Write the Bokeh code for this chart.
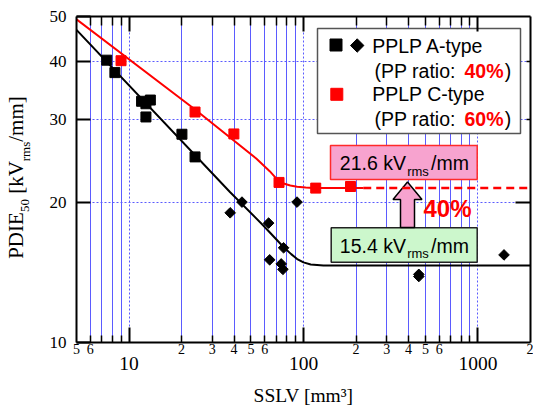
import math
from bokeh.plotting import figure
from bokeh.models import FixedTicker, LogAxis, CustomJSTickFormatter, Label
from bokeh.embed import file_html
from bokeh.resources import INLINE

# ---------------- data ----------------
# PPLP A-type, squares
a_sq_x = [7.45, 8.3, 11.8, 13.25, 12.5, 12.5, 20.1, 23.9]
a_sq_y = [40.3, 37.9, 32.9, 33.1, 32.5, 30.45, 27.96, 25.0]
# PPLP A-type, diamonds
a_dm_x = [38.0, 44.4, 63.1, 91.8, 76.9, 64.0, 74.5, 76.2, 458, 458, 1410]
a_dm_y = [18.97, 20.0, 18.03, 20.0, 15.96, 15.04, 14.74, 14.35, 14.0, 13.85, 15.41]
# PPLP C-type, squares
c_sq_x = [9.0, 23.9, 39.9, 72.4, 117.5, 186]
c_sq_y = [40.2, 31.2, 28.0, 22.04, 21.43, 21.6]
# fitted curves (traced)
a_fit_x = [5, 38, 59, 77, 85, 92, 100, 110, 130, 2000]
a_fit_y = [46.8, 21.0, 17.8, 16.0, 15.47, 15.1, 14.85, 14.7, 14.63, 14.63]
c_fit_x = [5, 23.9, 53.6, 64, 70, 76, 84, 92, 103, 114, 220]
c_fit_y = [49.3, 31.6, 24.8, 23.3, 22.45, 21.95, 21.7, 21.58, 21.5, 21.45, 21.43]
c_ext_x = [220, 2000]
c_ext_y = [21.43, 21.43]

# ticks
x_major_ticks = [10, 100, 1000]
x_minor_ticks = [6, 7, 8, 9, 20, 30, 40, 50, 60, 70, 80, 90,
                 200, 300, 400, 500, 600, 700, 800, 900]
x_small_label_ticks = [5, 6, 20, 30, 40, 50, 60, 200, 300, 400, 500, 600, 2000]
x_small_labels = ["5", "6", "2", "3", "4", "5", "6", "2", "3", "4", "5", "6", "2"]
x_big_labels = ["10", "100", "1000"]
y_ticks = [10, 20, 30, 40, 50]
y_labels = ["10", "20", "30", "40", "50"]
y_grid_ticks = [20, 30, 40]

x_title = "SSLV [mm\u00b3]"
y_title_main = ["PDIE", "[kV", "/mm]"]
y_title_sub = ["50", "rms"]

# ---------------- layout ----------------
W, H = 533, 408
FL, FR, FT, FB = 76, 3, 16, 66
X_MIN, X_MAX = 5, 2000
Y_MIN, Y_MAX = 10, 50


def dx(rx):
    fx = rx - FL
    return 10 ** (math.log10(X_MIN) + fx / (W - FL - FR) * math.log10(X_MAX / X_MIN))


def dy(ry):
    fy = (H - FB) - ry
    return 10 ** (math.log10(Y_MIN) + fy / (H - FT - FB) * math.log10(Y_MAX / Y_MIN))


# pixel centres of the pieces of the rotated y title
y_title_main_px = [235.0, 177.0, 118.5]
y_title_sub_px = [205.1, 151.0]

SERIF = "Liberation Serif"
SANS = "Liberation Sans"
GRID = "#5b5bff"
RED = "#ff0000"

p = figure(width=W, height=H, x_axis_type="log", y_axis_type="log",
           x_range=(X_MIN, X_MAX), y_range=(Y_MIN, Y_MAX),
           output_backend="svg", toolbar_location=None,
           min_border_left=FL, min_border_right=FR,
           min_border_top=FT, min_border_bottom=FB)
p.outline_line_color = None
p.background_fill_color = "white"
p.border_fill_color = "white"

empty_fmt = "return '';"
lookup_fmt = ("let b = 0; for (let i = 1; i < t.length; i++) "
              "{ if (Math.abs(t[i] - tick) < Math.abs(t[b] - tick)) b = i; } return l[b];")


def style_ticks(ax, maj_in, min_in):
    ax.major_tick_in = maj_in
    ax.major_tick_out = 0
    ax.minor_tick_in = min_in
    ax.minor_tick_out = 0
    ax.major_tick_line_width = 2
    ax.minor_tick_line_width = 1.5
    ax.major_tick_line_color = "black"
    ax.minor_tick_line_color = "black"
    ax.axis_line_width = 2
    ax.axis_line_color = "black"


def text_axis(ticks, labels, size, standoff, orientation="horizontal"):
    return LogAxis(ticker=FixedTicker(ticks=ticks, minor_ticks=[]),
                   formatter=CustomJSTickFormatter(args=dict(t=ticks, l=labels), code=lookup_fmt),
                   axis_line_color=None, major_tick_line_color=None, minor_tick_line_color=None,
                   major_tick_in=0, major_tick_out=0, minor_tick_in=0, minor_tick_out=0,
                   major_label_standoff=standoff, major_label_text_font=SERIF,
                   major_label_text_font_size=f"{size}px", major_label_text_color="black",
                   major_label_orientation=orientation)


# bottom axis (ticks only)
xa = p.xaxis[0]
xa.ticker = FixedTicker(ticks=x_major_ticks, minor_ticks=x_minor_ticks)
style_ticks(xa, 15, 7)
xa.formatter = CustomJSTickFormatter(code=empty_fmt)
xa.major_label_text_font_size = "1px"
xa.major_label_standoff = 0

# bottom row of small labels, then decade labels + title
xb = text_axis(x_small_label_ticks, x_small_labels, 14, 1)
p.add_layout(xb, "below")
xc = text_axis(x_major_ticks, x_big_labels, 19.5, 0)
xc.axis_label = x_title
xc.axis_label_text_font = SERIF
xc.axis_label_text_font_size = "19.5px"
xc.axis_label_text_font_style = "normal"
xc.axis_label_text_color = "black"
xc.axis_label_standoff = 12
p.add_layout(xc, "below")

# top axis
xt = LogAxis(ticker=FixedTicker(ticks=x_major_ticks, minor_ticks=x_minor_ticks),
             formatter=CustomJSTickFormatter(code=empty_fmt),
             major_label_text_font_size="1px", major_label_standoff=0)
style_ticks(xt, 15, 9)
p.add_layout(xt, "above")

# left axis
ya = p.yaxis[0]
ya.ticker = FixedTicker(ticks=y_ticks, minor_ticks=[])
ya.formatter = CustomJSTickFormatter(args=dict(t=y_ticks, l=y_labels), code=lookup_fmt)
style_ticks(ya, 14, 0)
ya.major_label_standoff = 10
ya.major_label_text_font = SERIF
ya.major_label_text_font_size = "17px"
ya.major_label_text_color = "black"

# rotated y title with subscripts (two label rows)
ysub = text_axis([dy(v) for v in y_title_sub_px], y_title_sub, 13, 14, "parallel")
p.add_layout(ysub, "left")
ymain = text_axis([dy(v) for v in y_title_main_px], y_title_main, 21, -13, "parallel")
p.add_layout(ymain, "left")

# right axis
yr = LogAxis(ticker=FixedTicker(ticks=[20], minor_ticks=[30, 40]),
             formatter=CustomJSTickFormatter(code=empty_fmt),
             major_label_text_font_size="1px", major_label_standoff=0)
style_ticks(yr, 15, 4)
p.add_layout(yr, "right")

# grids
p.xgrid.ticker = FixedTicker(ticks=x_major_ticks, minor_ticks=x_minor_ticks)
p.xgrid.grid_line_color = GRID
p.xgrid.grid_line_width = 1
p.xgrid.grid_line_dash = "2 2"
p.xgrid.minor_grid_line_color = GRID
p.xgrid.minor_grid_line_width = 1
p.ygrid.ticker = FixedTicker(ticks=y_grid_ticks, minor_ticks=[])
p.ygrid.grid_line_color = GRID
p.ygrid.grid_line_width = 1
p.ygrid.grid_line_dash = "2 2"

# boxes (legend and value tags)
p.quad(left=[dx(317)], right=[dx(520)], top=[dy(28)], bottom=[dy(133)],
       fill_color="white", line_color="#555555", line_width=1.5)
p.quad(left=[dx(330)], right=[dx(476.7)], top=[dy(145)], bottom=[dy(179)],
       fill_color="#f7a3cf", line_color="#ff2a2a", line_width=1.5)
p.quad(left=[dx(330.7)], right=[dx(476.7)], top=[dy(227.3)], bottom=[dy(261.7)],
       fill_color="#ccf7cc", line_color="#222222", line_width=1.5)

# block arrow
arrow_px = [(407, 181.5), (421.5, 199), (414, 199), (414, 227), (400, 227), (400, 199), (392.5, 199)]
p.patch([dx(a) for a, b in arrow_px], [dy(b) for a, b in arrow_px],
        fill_color="#f7a3cf", line_color="black", line_width=1.5)

# curves
p.line(c_fit_x, c_fit_y, line_color=RED, line_width=2)
p.line(c_ext_x, c_ext_y, line_color=RED, line_width=2.5, line_dash="8 5")
p.line(a_fit_x, a_fit_y, line_color="black", line_width=2)

# points
p.scatter(a_sq_x, a_sq_y, marker="square", size=10, fill_color="black", line_color="black")
p.scatter(a_dm_x, a_dm_y, marker="square", angle=math.pi / 4, size=7.5,
          fill_color="black", line_color="black")
p.scatter(c_sq_x, c_sq_y, marker="square", size=10, fill_color=RED, line_color=RED)

# legend swatches
p.scatter([dx(335.5)], [dy(44.5)], marker="square", size=12, fill_color="black", line_color="black")
p.scatter([dx(356.7)], [dy(45)], marker="square", angle=math.pi / 4, size=9.5,
          fill_color="black", line_color="black")
p.scatter([dx(336.3)], [dy(93.8)], marker="square", size=12, fill_color=RED, line_color=RED)


def lab(text, rx, ry, size, font=SANS, color="black", style="normal"):
    p.add_layout(Label(x=dx(rx), y=dy(ry), text=text, text_font=font,
                       text_font_size=f"{size}px", text_color=color, text_font_style=style,
                       text_align="left", text_baseline="middle"))


# legend text
lab("PPLP A-type", 371.7, 45.7, 19.5)
lab("(PP ratio: ", 374, 70.7, 19.5)
lab("40%", 464, 70.7, 19.5, color=RED, style="bold")
lab(")", 504.3, 70.7, 19.5)
lab("PPLP C-type", 371.7, 93.3, 19.5)
lab("(PP ratio: ", 374, 118.3, 19.5)
lab("60%", 464, 118.3, 19.5, color=RED, style="bold")
lab(")", 504.3, 118.3, 19.5)

# tags
lab("21.6 kV", 339.3, 162.7, 19.5)
lab("rms", 406.7, 170.7, 13)
lab("/mm", 430.5, 162.7, 19.5)
lab("15.4 kV", 339.3, 245, 19.5)
lab("rms", 406.7, 253, 13)
lab("/mm", 430.5, 245, 19.5)
lab("40%", 423, 208, 24, color=RED, style="bold")

open("out.html", "w").write(file_html(p, INLINE))
